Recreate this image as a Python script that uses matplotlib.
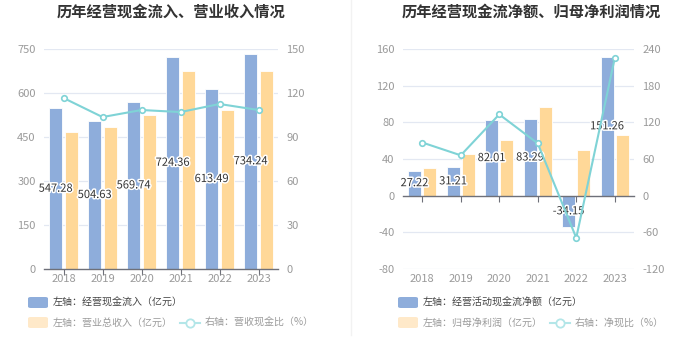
import matplotlib
matplotlib.use("Agg")
import matplotlib.pyplot as plt
import matplotlib.patheffects as pe
from matplotlib.patches import FancyBboxPatch
from matplotlib.lines import Line2D
import matplotlib.transforms as mtrans

plt.rcParams['font.family'] = ['Noto Sans CJK SC', 'DejaVu Sans']

years = ['2018', '2019', '2020', '2021', '2022', '2023']
# left chart
cash_inflow = [547.28, 504.63, 569.74, 724.36, 613.49, 734.24]
revenue = [467, 484, 525, 675, 542, 675]
rev_cash_ratio = [116.6, 103.6, 108.4, 107.0, 112.5, 108.4]
# right chart
net_cash = [27.22, 31.21, 82.01, 83.29, -34.15, 151.26]
net_profit = [30.7, 46.0, 61.0, 96.4, 49.5, 66.6]
net_cash_ratio = [87.0, 66.0, 133.0, 85.5, -69.0, 225.0]

left_yticks = [0, 150, 300, 450, 600, 750]
left_y2ticks = [0, 30, 60, 90, 120, 150]
right_yticks = [-80, -40, 0, 40, 80, 120, 160]
right_y2ticks = [-120, -60, 0, 60, 120, 180, 240]

titles = ['历年经营现金流入、营业收入情况', '历年经营现金流净额、归母净利润情况']
legend_left = ['左轴：经营现金流入（亿元）', '左轴：营业总收入（亿元）', '右轴：营收现金比（%）']
legend_right = ['左轴：经营活动现金流净额（亿元）', '左轴：归母净利润（亿元）', '右轴：净现比（%）']

BLUE = '#8eaddb'
YELLOW = '#ffd898'
CYAN = '#7fd3d6'
GRID = '#e3e8f2'
AXIS = '#6e7079'
TICK = '#9a9a9a'

W, H = 700, 360
fig = plt.figure(figsize=(7, 3.6), dpi=100)


def fx(px):
    return px / W


def fy(py):
    return 1 - py / H


def make_chart(x0, x1, bars1, bars2, line, yl, yt, y2l, y2t, title, tcx, legend, leg):
    ax = fig.add_axes([fx(x0), fy(269), fx(x1 - x0), (269 - 49) / H])
    ax2 = ax.twinx()
    n = len(years)
    xs = list(range(n))
    w = 0.34
    ax.bar([x - 0.2 for x in xs], bars1, width=w, color=BLUE, edgecolor='white', linewidth=0.6, zorder=3)
    ax.bar([x + 0.2 for x in xs], bars2, width=w, color=YELLOW, edgecolor='white', linewidth=0.6, zorder=3)
    ax.set_xlim(-0.5, n - 0.5)
    ax.set_ylim(*yl)
    ax.set_yticks(yt)
    ax.set_yticklabels([str(v) for v in yt])
    for v in yt:
        if v != 0:
            ax.axhline(v, color=GRID, lw=0.9, zorder=1)
    for s in ax.spines.values():
        s.set_visible(False)
    ax.spines['bottom'].set_visible(True)
    ax.spines['bottom'].set_position(('data', 0))
    ax.spines['bottom'].set_color(AXIS)
    ax.spines['bottom'].set_linewidth(1.0)
    ax.spines['bottom'].set_zorder(4)
    ax.set_xticks(xs)
    ax.tick_params(axis='x', direction='out', length=4, color=AXIS, labelbottom=False)
    ax.tick_params(axis='y', length=0, labelsize=8, labelcolor=TICK, pad=6)
    trans = mtrans.blended_transform_factory(ax.transData, ax.transAxes)
    for x, lab in zip(xs, years):
        ax.text(x, -10 / 220, lab, transform=trans, ha='center', va='center', fontsize=8, color=TICK)
    for x, v in zip(xs, bars1):
        ax.text(x - 0.2, v / 2, f'{v:.2f}', ha='center', va='center', fontsize=8, color='#333333',
                zorder=6, path_effects=[pe.withStroke(linewidth=2.2, foreground='white')])
    ax2.plot(xs, line, color=CYAN, lw=1.5, marker='o', markersize=4, markerfacecolor='white',
             markeredgecolor=CYAN, markeredgewidth=1.2, zorder=5)
    ax2.set_ylim(*y2l)
    ax2.set_yticks(y2t)
    ax2.set_yticklabels([str(v) for v in y2t])
    for s in ax2.spines.values():
        s.set_visible(False)
    ax2.tick_params(axis='y', length=0, labelsize=8, labelcolor=TICK, pad=6)
    ax.set_zorder(ax2.get_zorder() + 1)
    ax.patch.set_visible(False)
    # put line above bars: redraw line on ax with transform of ax2
    ax2.set_zorder(ax.get_zorder() + 1)
    ax2.patch.set_visible(False)

    fig.text(fx(tcx), fy(12), title, ha='center', va='center', fontsize=11, fontweight='bold', color='#333333')

    lx, r1, r2, lx2 = leg
    fig.patches.append(FancyBboxPatch((fx(lx), fy(308)), fx(20), 11 / H,
                                      boxstyle='round,pad=0,rounding_size=0.004', transform=fig.transFigure,
                                      facecolor=BLUE, edgecolor='none'))
    fig.text(fx(lx + 25), fy(r1), legend[0], ha='left', va='center', fontsize=7.2, color='#444444')
    fig.patches.append(FancyBboxPatch((fx(lx), fy(328)), fx(20), 11 / H,
                                      boxstyle='round,pad=0,rounding_size=0.004', transform=fig.transFigure,
                                      facecolor='#ffe9c9', edgecolor='none'))
    fig.text(fx(lx + 25), fy(r2), legend[1], ha='left', va='center', fontsize=7.2, color='#9a9a9a')
    fig.lines.append(Line2D([fx(lx2), fx(lx2 + 20)], [fy(r2), fy(r2)], transform=fig.transFigure,
                            color='#b3e6e8', lw=1.5))
    fig.lines.append(Line2D([fx(lx2 + 10)], [fy(r2)], transform=fig.transFigure, marker='o', markersize=6,
                            markerfacecolor='white', markeredgecolor='#b3e6e8', markeredgewidth=1.3))
    fig.text(fx(lx2 + 25), fy(r2), legend[2], ha='left', va='center', fontsize=7.2, color='#9a9a9a')
    return ax, ax2


make_chart(44, 278, cash_inflow, revenue, rev_cash_ratio, (0, 750), left_yticks, (0, 150), left_y2ticks,
           titles[0], 171, legend_left, (28, 303, 323, 180))
make_chart(403, 634, net_cash, net_profit, net_cash_ratio, (-80, 160), right_yticks, (-120, 240), right_y2ticks,
           titles[1], 531, legend_right, (398, 303, 323, 550))

fig.lines.append(Line2D([fx(351), fx(351)], [fy(0), fy(335)], transform=fig.transFigure, color='#f2f2f2', lw=1))

fig.savefig('out.png', dpi=100, facecolor='white')
